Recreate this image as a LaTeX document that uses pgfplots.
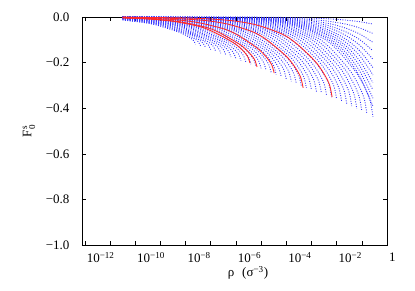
\documentclass[border=0pt]{standalone}
\usepackage{fontspec}
\setmainfont{Liberation Serif}
\usepackage{amsmath}
\usepackage{pgfplots}
\pgfplotsset{compat=1.18}
\definecolor{bdot}{RGB}{50,50,255}
\definecolor{rline}{RGB}{255,40,40}
\tikzset{bc/.style={bdot, line width=0.9pt, dash pattern=on 0.9pt off 1.5pt, smooth},
         rc/.style={rline, line width=0.85pt, smooth}}
\begin{document}
\begin{tikzpicture}[font=\fontsize{13bp}{15bp}\selectfont]
\path[use as bounding box] (-82bp,-46bp) rectangle (333bp,245bp);
\begin{axis}[
  at={(0,0)}, anchor=south west,
  scale only axis, width=305bp, height=228bp,
  xmin=-12.11, xmax=0, ymin=-1, ymax=0,
  no markers,
  xtick={-12,-10,-8,-6,-4,-2,0},
  xticklabels={10\textsuperscript{−12},10\textsuperscript{−10},10\textsuperscript{−8},10\textsuperscript{−6},10\textsuperscript{−4},10\textsuperscript{−2},1},
  minor xtick={-11,-9,-7,-5,-3,-1},
  ytick={-1,-0.8,-0.6,-0.4,-0.2,0},
  yticklabels={−1.0,−0.8,−0.6,−0.4,−0.2,0.0},
  tick align=inside,
  major tick length=4bp, minor tick length=4bp,
  every tick/.style={black, line width=0.5pt},
  axis line style={line width=0.8pt},
  xticklabel style={anchor=north west, xshift=-1.5bp, yshift=-4bp},
  yticklabel style={anchor=east, xshift=-9bp},
  xlabel={ρ\hspace{8bp}(σ\textsuperscript{−3})},
  ylabel={F$_{\text{0}}^{\text{s}}$},
  xlabel style={at={(axis description cs:0.544,-0.123)}, anchor=center},
  ylabel style={at={(axis description cs:-0.174,0.5)}, anchor=center},
]
% blue family: curves ending on the envelope
\addplot[bc] coordinates {(-10.5,-0.013)(-9.6,-0.025)(-9.1,-0.037)(-8.6,-0.054)(-8.2,-0.069)(-7.9,-0.086)(-7.7,-0.101)(-7.6,-0.119)};
\addplot[bc] coordinates {(-10.5,-0.012)(-9.4,-0.027)(-8.9,-0.039)(-8.4,-0.057)(-8.0,-0.074)(-7.7,-0.091)(-7.5,-0.108)(-7.4,-0.127)};
\addplot[bc] coordinates {(-10.5,-0.011)(-10.2,-0.0135)(-9.2,-0.028)(-8.7,-0.042)(-8.2,-0.061)(-7.8,-0.078)(-7.5,-0.097)(-7.3,-0.115)(-7.2,-0.135)};
\addplot[bc] coordinates {(-10.5,-0.0097)(-10.0,-0.014)(-9.0,-0.030)(-8.5,-0.044)(-8.0,-0.064)(-7.6,-0.083)(-7.3,-0.103)(-7.1,-0.122)(-7.0,-0.143)};
\addplot[bc] coordinates {(-10.5,-0.0088)(-9.8,-0.015)(-8.8,-0.032)(-8.3,-0.047)(-7.8,-0.068)(-7.4,-0.088)(-7.1,-0.109)(-6.9,-0.128)(-6.8,-0.151)};
\addplot[bc] coordinates {(-10.5,-0.008)(-9.6,-0.016)(-8.6,-0.033)(-8.1,-0.049)(-7.6,-0.072)(-7.2,-0.092)(-6.9,-0.114)(-6.7,-0.135)(-6.6,-0.159)};
\addplot[bc] coordinates {(-10.5,-0.0072)(-9.4,-0.017)(-8.4,-0.035)(-7.9,-0.052)(-7.4,-0.075)(-7.0,-0.097)(-6.7,-0.120)(-6.5,-0.142)(-6.4,-0.167)};
\addplot[bc] coordinates {(-10.5,-0.0065)(-10.2,-0.008)(-9.2,-0.0175)(-8.2,-0.037)(-7.7,-0.054)(-7.2,-0.079)(-6.8,-0.102)(-6.5,-0.126)(-6.3,-0.149)(-6.2,-0.175)};
\addplot[bc] coordinates {(-10.5,-0.0059)(-10.0,-0.0084)(-9.0,-0.018)(-8.0,-0.038)(-7.5,-0.057)(-7.0,-0.082)(-6.6,-0.106)(-6.3,-0.132)(-6.1,-0.156)(-6.0,-0.183)};
\addplot[bc] coordinates {(-10.5,-0.0052)(-9.8,-0.0088)(-8.8,-0.019)(-7.8,-0.040)(-7.3,-0.059)(-6.8,-0.086)(-6.4,-0.111)(-6.1,-0.138)(-5.9,-0.162)(-5.8,-0.191)};
\addplot[bc] coordinates {(-10.5,-0.0046)(-9.6,-0.0092)(-8.6,-0.020)(-7.6,-0.042)(-7.1,-0.062)(-6.6,-0.090)(-6.2,-0.115)(-5.9,-0.143)(-5.7,-0.169)(-5.6,-0.199)};
\addplot[bc] coordinates {(-10.5,-0.0041)(-9.4,-0.0095)(-8.4,-0.021)(-7.4,-0.043)(-6.9,-0.064)(-6.4,-0.093)(-6.0,-0.120)(-5.7,-0.149)(-5.5,-0.176)(-5.4,-0.207)};
\addplot[bc] coordinates {(-10.5,-0.0037)(-9.2,-0.0099)(-8.2,-0.022)(-7.2,-0.045)(-6.7,-0.067)(-6.2,-0.097)(-5.8,-0.125)(-5.5,-0.156)(-5.3,-0.184)(-5.2,-0.216)};
\addplot[bc] coordinates {(-10.5,-0.0034)(-9.0,-0.0104)(-8.0,-0.0225)(-7.0,-0.047)(-6.5,-0.070)(-6.0,-0.101)(-5.6,-0.131)(-5.3,-0.162)(-5.1,-0.191)(-5.0,-0.225)};
\addplot[bc] coordinates {(-10.5,-0.003)(-8.8,-0.0108)(-7.8,-0.023)(-6.8,-0.049)(-6.3,-0.073)(-5.8,-0.105)(-5.4,-0.136)(-5.1,-0.168)(-4.9,-0.199)(-4.8,-0.234)};
\addplot[bc] coordinates {(-10.5,-0.0026)(-8.6,-0.011)(-7.6,-0.024)(-6.6,-0.051)(-6.1,-0.075)(-5.6,-0.109)(-5.2,-0.141)(-4.9,-0.175)(-4.7,-0.207)(-4.6,-0.243)};
\addplot[bc] coordinates {(-10.5,-0.0023)(-9.9,-0.0038)(-8.4,-0.0116)(-7.4,-0.025)(-6.4,-0.053)(-5.9,-0.078)(-5.4,-0.113)(-5.0,-0.146)(-4.7,-0.181)(-4.5,-0.214)(-4.4,-0.252)};
\addplot[bc] coordinates {(-10.5,-0.0021)(-9.7,-0.0039)(-8.2,-0.012)(-7.2,-0.026)(-6.2,-0.055)(-5.7,-0.081)(-5.2,-0.118)(-4.8,-0.152)(-4.5,-0.189)(-4.3,-0.223)(-4.2,-0.262)};
\addplot[bc] coordinates {(-10.5,-0.0018)(-9.5,-0.0041)(-8.0,-0.0125)(-7.0,-0.027)(-6.0,-0.057)(-5.5,-0.084)(-5.0,-0.122)(-4.6,-0.158)(-4.3,-0.196)(-4.1,-0.231)(-4.0,-0.272)};
\addplot[bc] coordinates {(-10.5,-0.0016)(-9.3,-0.0042)(-7.8,-0.013)(-6.8,-0.028)(-5.8,-0.059)(-5.3,-0.087)(-4.8,-0.127)(-4.4,-0.164)(-4.1,-0.203)(-3.9,-0.240)(-3.8,-0.282)};
\addplot[bc] coordinates {(-10.5,-0.0015)(-9.1,-0.0044)(-7.6,-0.0134)(-6.6,-0.029)(-5.6,-0.061)(-5.1,-0.091)(-4.6,-0.131)(-4.2,-0.169)(-3.9,-0.210)(-3.7,-0.248)(-3.6,-0.292)};
\addplot[bc] coordinates {(-10.5,-0.0013)(-8.9,-0.0045)(-7.4,-0.0139)(-6.4,-0.030)(-5.4,-0.063)(-4.9,-0.094)(-4.4,-0.136)(-4.0,-0.175)(-3.7,-0.217)(-3.5,-0.257)(-3.4,-0.302)};
\addplot[bc] coordinates {(-10.5,-0.0012)(-8.7,-0.0047)(-7.2,-0.0143)(-6.2,-0.031)(-5.2,-0.065)(-4.7,-0.096)(-4.2,-0.140)(-3.8,-0.180)(-3.5,-0.224)(-3.3,-0.264)(-3.2,-0.311)};
\addplot[bc] coordinates {(-10.5,-0.001)(-8.5,-0.0048)(-7.0,-0.0147)(-6.0,-0.032)(-5.0,-0.067)(-4.5,-0.099)(-4.0,-0.144)(-3.6,-0.185)(-3.3,-0.230)(-3.1,-0.271)(-3.0,-0.319)};
\addplot[bc] coordinates {(-10.5,-0.0009)(-8.3,-0.0049)(-6.8,-0.015)(-5.8,-0.033)(-4.8,-0.069)(-4.3,-0.101)(-3.8,-0.147)(-3.4,-0.190)(-3.1,-0.235)(-2.9,-0.278)(-2.8,-0.327)};
\addplot[bc] coordinates {(-10.5,-0.0008)(-8.1,-0.005)(-6.6,-0.0154)(-5.6,-0.0335)(-4.6,-0.070)(-4.1,-0.104)(-3.6,-0.151)(-3.2,-0.194)(-2.9,-0.241)(-2.7,-0.285)(-2.6,-0.335)};
\addplot[bc] coordinates {(-10.5,-0.0007)(-7.9,-0.0051)(-6.4,-0.0158)(-5.4,-0.034)(-4.4,-0.072)(-3.9,-0.106)(-3.4,-0.154)(-3.0,-0.199)(-2.7,-0.247)(-2.5,-0.292)(-2.4,-0.343)};
\addplot[bc] coordinates {(-10.5,-0.0006)(-7.7,-0.0053)(-6.2,-0.016)(-5.2,-0.035)(-4.2,-0.074)(-3.7,-0.109)(-3.2,-0.158)(-2.8,-0.204)(-2.5,-0.253)(-2.3,-0.298)(-2.2,-0.351)};
\addplot[bc] coordinates {(-10.5,-0.0006)(-7.5,-0.0054)(-6.0,-0.0166)(-5.0,-0.036)(-4.0,-0.076)(-3.5,-0.112)(-3.0,-0.162)(-2.6,-0.209)(-2.3,-0.259)(-2.1,-0.306)(-2.0,-0.360)};
\addplot[bc] coordinates {(-10.5,-0.0005)(-7.3,-0.0056)(-5.8,-0.017)(-4.8,-0.037)(-3.8,-0.078)(-3.3,-0.115)(-2.8,-0.167)(-2.4,-0.215)(-2.1,-0.266)(-1.9,-0.315)(-1.8,-0.370)};
\addplot[bc] coordinates {(-10.5,-0.0004)(-7.1,-0.0057)(-5.6,-0.0175)(-4.6,-0.038)(-3.6,-0.080)(-3.1,-0.118)(-2.6,-0.171)(-2.2,-0.220)(-1.9,-0.274)(-1.7,-0.323)(-1.6,-0.380)};
\addplot[bc] coordinates {(-10.5,-0.0004)(-6.9,-0.0059)(-5.4,-0.018)(-4.4,-0.039)(-3.4,-0.082)(-2.9,-0.121)(-2.4,-0.176)(-2.0,-0.227)(-1.7,-0.282)(-1.5,-0.332)(-1.4,-0.391)};
\addplot[bc] coordinates {(-10.5,-0.0003)(-6.7,-0.006)(-5.2,-0.0185)(-4.2,-0.040)(-3.2,-0.084)(-2.7,-0.125)(-2.2,-0.181)(-1.8,-0.233)(-1.5,-0.289)(-1.3,-0.342)(-1.2,-0.402)};
\addplot[bc] coordinates {(-10.5,-0.0003)(-6.5,-0.0062)(-5.0,-0.019)(-4.0,-0.041)(-3.0,-0.087)(-2.5,-0.128)(-2.0,-0.186)(-1.6,-0.240)(-1.3,-0.297)(-1.1,-0.351)(-1.0,-0.413)};
\addplot[bc] coordinates {(-10.5,-0.0003)(-6.3,-0.0064)(-4.8,-0.0195)(-3.8,-0.042)(-2.8,-0.089)(-2.3,-0.131)(-1.8,-0.191)(-1.4,-0.246)(-1.1,-0.305)(-0.9,-0.360)(-0.8,-0.424)};
\addplot[bc] coordinates {(-10.5,-0.0002)(-6.06,-0.0066)(-4.56,-0.020)(-3.56,-0.044)(-2.56,-0.092)(-2.06,-0.135)(-1.56,-0.197)(-1.16,-0.253)(-0.86,-0.315)(-0.66,-0.371)(-0.56,-0.437)};
% blue family: curves reaching the largest density
\addplot[bc] coordinates {(-10.5,-0.0002)(-6.06,-0.0057)(-4.56,-0.018)(-3.56,-0.039)(-2.56,-0.084)(-2.06,-0.123)(-1.56,-0.181)(-1.06,-0.266)(-0.56,-0.390)};
\addplot[bc] coordinates {(-10.5,-0.0002)(-6.06,-0.0052)(-4.56,-0.0164)(-3.56,-0.0356)(-2.56,-0.0765)(-2.06,-0.1125)(-1.56,-0.165)(-1.06,-0.242)(-0.56,-0.356)};
\addplot[bc] coordinates {(-10.5,-0.0002)(-6.06,-0.0047)(-4.56,-0.0147)(-3.56,-0.032)(-2.56,-0.069)(-2.06,-0.101)(-1.56,-0.148)(-1.06,-0.218)(-0.56,-0.320)};
\addplot[bc] coordinates {(-10.5,-0.0001)(-6.06,-0.0042)(-4.56,-0.0132)(-3.56,-0.0288)(-2.56,-0.062)(-2.06,-0.091)(-1.56,-0.134)(-1.06,-0.196)(-0.56,-0.288)};
\addplot[bc] coordinates {(-10.5,-0.0001)(-6.06,-0.0037)(-4.56,-0.0117)(-3.56,-0.0254)(-2.56,-0.055)(-2.06,-0.080)(-1.56,-0.118)(-1.06,-0.173)(-0.56,-0.254)};
\addplot[bc] coordinates {(-10.5,-0.0001)(-6.06,-0.0033)(-4.56,-0.010)(-3.56,-0.022)(-2.56,-0.048)(-2.06,-0.070)(-1.56,-0.103)(-1.06,-0.151)(-0.56,-0.222)};
\addplot[bc] coordinates {(-10.5,-0.0001)(-6.06,-0.0027)(-4.56,-0.0085)(-3.56,-0.0185)(-2.56,-0.040)(-2.06,-0.058)(-1.56,-0.086)(-1.06,-0.126)(-0.56,-0.185)};
\addplot[bc] coordinates {(-10.5,-0.0001)(-6.06,-0.0022)(-4.56,-0.0068)(-3.56,-0.0148)(-2.56,-0.032)(-2.06,-0.047)(-1.56,-0.069)(-1.06,-0.101)(-0.56,-0.148)};
\addplot[bc] coordinates {(-10.5,0)(-6.06,-0.0016)(-4.56,-0.0051)(-3.56,-0.011)(-2.56,-0.024)(-2.06,-0.035)(-1.56,-0.052)(-1.06,-0.076)(-0.56,-0.111)};
\addplot[bc] coordinates {(-10.5,0)(-6.06,-0.0011)(-4.56,-0.0033)(-3.56,-0.0072)(-2.56,-0.0155)(-2.06,-0.023)(-1.56,-0.033)(-1.06,-0.049)(-0.56,-0.072)};
\addplot[bc] coordinates {(-10.5,0)(-6.06,-0.0005)(-4.56,-0.0014)(-3.56,-0.0031)(-2.56,-0.0067)(-2.06,-0.0098)(-1.56,-0.0144)(-1.06,-0.021)(-0.56,-0.031)};
% red curves
\addplot[rc] coordinates {(-10.5,-0.0042)(-9.44,-0.0093)(-8.44,-0.020)(-7.44,-0.042)(-6.94,-0.063)(-6.44,-0.091)(-6.04,-0.117)(-5.74,-0.145)(-5.54,-0.172)(-5.44,-0.202)};
\addplot[rc] coordinates {(-10.5,-0.0036)(-9.16,-0.010)(-8.16,-0.022)(-7.16,-0.046)(-6.66,-0.068)(-6.16,-0.099)(-5.76,-0.127)(-5.46,-0.158)(-5.26,-0.186)(-5.16,-0.219)};
\addplot[rc] coordinates {(-10.5,-0.0024)(-9.98,-0.0037)(-8.48,-0.0113)(-7.48,-0.025)(-6.48,-0.052)(-5.98,-0.076)(-5.48,-0.111)(-5.08,-0.143)(-4.78,-0.177)(-4.58,-0.209)(-4.48,-0.246)};
\addplot[rc] coordinates {(-10.5,-0.0013)(-8.83,-0.0047)(-7.33,-0.0143)(-6.33,-0.031)(-5.33,-0.065)(-4.83,-0.096)(-4.33,-0.140)(-3.93,-0.180)(-3.63,-0.224)(-3.43,-0.264)(-3.33,-0.311)};
\addplot[rc] coordinates {(-10.5,-0.0006)(-7.68,-0.0053)(-6.18,-0.016)(-5.18,-0.035)(-4.18,-0.074)(-3.68,-0.109)(-3.18,-0.158)(-2.78,-0.204)(-2.48,-0.253)(-2.28,-0.298)(-2.18,-0.351)};
\end{axis}
\end{tikzpicture}
\end{document}
